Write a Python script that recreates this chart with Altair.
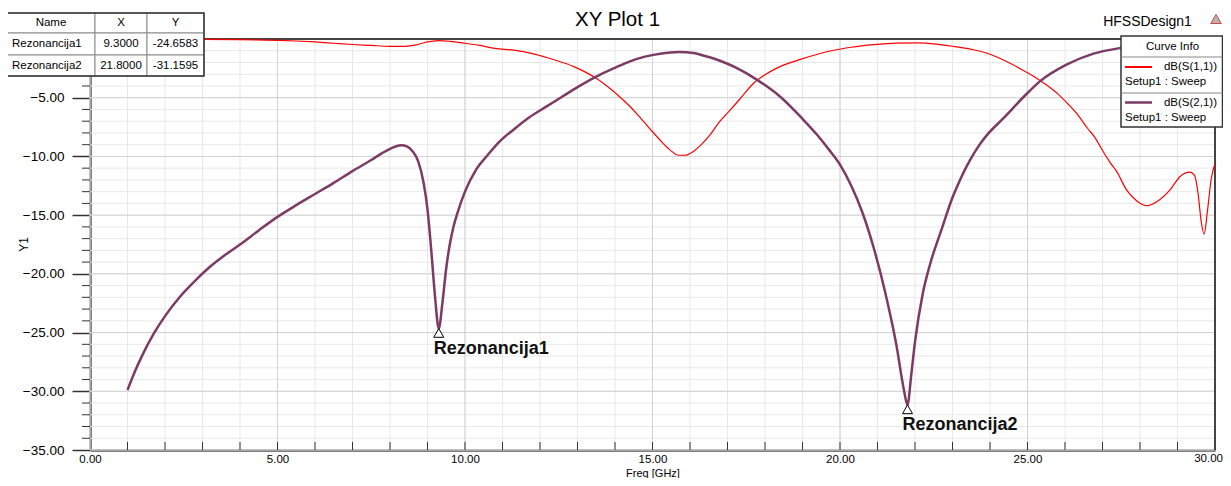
import altair as alt
import pandas as pd

FONT = "Liberation Sans"

# ---------------- data ----------------
s11_freq = [1.0, 2.0, 3.0, 4.0, 5.0, 5.5, 6.0, 6.5, 7.0, 7.5, 8.0, 8.4, 8.7, 8.9, 9.1, 9.3, 9.6,
            10.0, 10.4, 10.8, 11.3, 11.8, 12.2, 12.6, 12.9, 13.2, 13.5, 13.8, 14.1, 14.4, 14.7,
            15.0, 15.2, 15.45, 15.7, 15.85, 16.1, 16.3, 16.5, 16.8, 17.1, 17.4, 17.7, 18.0, 18.3,
            18.6, 18.9, 19.4, 19.8, 20.3, 20.9, 21.5, 22.1, 22.6, 23.0, 23.5, 23.9, 24.3, 24.6,
            24.9, 25.2, 25.5, 25.8, 26.1, 26.3, 26.6, 26.8, 27.0, 27.2, 27.4, 27.64, 27.85, 28.0,
            28.2, 28.45, 28.8, 29.07, 29.33, 29.45, 29.55, 29.63, 29.71, 29.8, 29.9, 30.0]
s11_db = [-0.05, -0.03, -0.03, -0.06, -0.12, -0.17, -0.25, -0.36, -0.47, -0.55, -0.62, -0.62, -0.5,
          -0.32, -0.2, -0.14, -0.2, -0.36, -0.55, -0.8, -0.95, -1.25, -1.6, -2.0, -2.35, -2.8,
          -3.35, -4.05, -4.85, -5.75, -6.8, -7.9, -8.6, -9.4, -9.9, -9.9, -9.55, -9.0, -8.3, -7.0,
          -5.95, -4.85, -3.75, -3.05, -2.5, -2.1, -1.78, -1.3, -0.98, -0.7, -0.48, -0.35, -0.33,
          -0.45, -0.62, -0.88, -1.19, -1.7, -2.17, -2.7, -3.25, -3.9, -4.65, -5.6, -6.3, -7.6,
          -8.4, -9.5, -10.5, -11.4, -12.85, -13.6, -13.98, -14.2, -13.85, -12.85, -11.71, -11.34,
          -11.6, -13.2, -15.5, -16.62, -14.6, -11.9, -10.6]

s21_freq = [1.0, 1.2, 1.4, 1.7, 2.0, 2.4, 2.8, 3.2, 3.6, 4.0, 4.5, 5.0, 5.5, 6.0, 6.5, 7.0, 7.5,
            7.8, 8.0, 8.15, 8.3, 8.45, 8.6, 8.75, 8.9, 9.0, 9.1, 9.2, 9.3, 9.4, 9.5, 9.6, 9.7,
            9.8, 10.0, 10.3, 10.6, 10.9, 11.3, 11.7, 12.2, 12.6, 13.0, 13.5, 14.0, 14.4, 14.8,
            15.2, 15.7, 16.1, 16.4, 16.8, 17.2, 17.8, 18.4, 19.0, 19.4, 19.7, 20.0, 20.3, 20.6,
            20.9, 21.2, 21.5, 21.7, 21.8, 21.9, 22.0, 22.2, 22.4, 22.7, 23.0, 23.2, 23.47, 23.7,
            23.9, 24.36, 25.0, 25.33, 26.04, 26.76, 27.47, 28.2, 29.0, 30.0]
s21_db = [-29.9, -28.3, -26.9, -25.1, -23.6, -21.95, -20.6, -19.4, -18.4, -17.5, -16.3, -15.15,
          -14.15, -13.2, -12.25, -11.25, -10.3, -9.7, -9.35, -9.15, -9.05, -9.15, -9.55, -10.4,
          -12.3, -14.5, -18.0, -21.9, -24.6583, -22.4, -19.5, -17.4, -15.9, -14.8, -13.0, -11.1,
          -9.9, -8.8, -7.7, -6.7, -5.7, -4.9, -4.1, -3.2, -2.45, -1.9, -1.5, -1.25, -1.1, -1.2,
          -1.45, -1.85, -2.4, -3.5, -4.9, -6.8, -8.2, -9.4, -10.7, -12.5, -14.8, -17.8, -21.5,
          -26.0, -29.8, -31.1595, -28.6, -25.8, -21.8, -19.2, -16.3, -13.5, -12.0, -10.3, -9.1,
          -8.25, -6.74, -4.6, -3.61, -2.19, -1.25, -0.77, -0.5, -0.35, -0.3]

marker_names = ["Rezonancija1", "Rezonancija2"]
marker_x = [9.3, 21.8]
marker_y = [-24.6583, -31.1595]
marker_x_txt = ["9.3000", "21.8000"]
marker_y_txt = ["-24.6583", "-31.1595"]

x_ticks = [0, 5, 10, 15, 20, 25, 30]
x_last_label = "30.00"
y_ticks = [-35, -30, -25, -20, -15, -10, -5]
y_grid_major = [-35, -30, -25, -20, -15, -10, -5, 0]
x_minor = list(range(0, 31))
y_minor = list(range(-35, 1))

legend_names = ["dB(S(1,1))", "dB(S(2,1))"]
legend_sub = "Setup1 : Sweep"
colors = ["#ff0000", "#7b3b64"]

# ---------------- layout ----------------
W, H = 1125, 411
XLAB_PAD = 3
xs = alt.Scale(domain=[0, 30], nice=False, zero=False)
ys = alt.Scale(domain=[-35, 0], nice=False, zero=False)

x_axis = alt.Axis(
    values=x_ticks[:-1], format=".2f", title="Freq [GHz]", grid=False, ticks=False,
    domainColor="black", domainWidth=2, labelPadding=XLAB_PAD, labelFontSize=11.5,
    labelFlush=False, labelOverlap=False, titleY=28, titleBaseline="bottom",
    titleFontSize=11, titleFontWeight="normal", labelFont=FONT, titleFont=FONT,
    labelColor="black", titleColor="black")
y_axis = alt.Axis(
    values=y_ticks, format=".2f", title="Y1", grid=False, tickSize=18, tickColor="#333",
    tickWidth=1.5, domainColor="black", domainWidth=2, labelPadding=8, labelFontSize=13.5,
    labelFlush=False, labelOverlap=False, titleX=-60, titleY=205, titleFontSize=12,
    titleFontWeight="normal", labelFont=FONT, titleFont=FONT, labelColor="black",
    titleColor="black")

X = lambda: alt.X("freq:Q", scale=xs)
Y = lambda: alt.Y("db:Q", scale=ys)


def rule(x, x2, y, y2, color, width):
    return alt.Chart(pd.DataFrame({"k": [0]})).mark_rule(color=color, strokeWidth=width).encode(
        x=alt.value(x), x2=alt.value(x2), y=alt.value(y), y2=alt.value(y2))


def box(x, x2, y, y2, stroke, width, fill="white"):
    return alt.Chart(pd.DataFrame({"k": [0]})).mark_rect(
        fill=fill, stroke=stroke, strokeWidth=width).encode(
        x=alt.value(x), x2=alt.value(x2), y=alt.value(y), y2=alt.value(y2))


def label(s, x, y, size, align="center", weight="normal", color="black", baseline="middle"):
    return alt.Chart(pd.DataFrame({"t": [s]})).mark_text(
        font=FONT, fontSize=size, align=align, baseline=baseline, fontWeight=weight,
        color=color).encode(x=alt.value(x), y=alt.value(y), text="t:N")


# grid (first layers carry the axes)
gx_minor = alt.Chart(pd.DataFrame({"freq": x_minor})).mark_rule(color="#e8e8e8", strokeWidth=1).encode(
    x=alt.X("freq:Q", scale=xs, axis=x_axis))
gy_minor = alt.Chart(pd.DataFrame({"db": y_minor})).mark_rule(color="#e8e8e8", strokeWidth=1).encode(
    y=alt.Y("db:Q", scale=ys, axis=y_axis))
gx_major = alt.Chart(pd.DataFrame({"freq": x_ticks})).mark_rule(color="#d2d2d2", strokeWidth=1).encode(x=X())
gy_major = alt.Chart(pd.DataFrame({"db": y_grid_major})).mark_rule(color="#d2d2d2", strokeWidth=1).encode(y=Y())

# minor ticks
x_tick_marks = alt.Chart(pd.DataFrame({"freq": x_minor[1:-1]})).mark_rule(color="#333", strokeWidth=1).encode(
    x=X(), y=alt.value(H), y2=alt.value(H - 8))
y_tick_marks = alt.Chart(pd.DataFrame({"db": [v for v in y_minor if v % 5 != 0]})).mark_rule(
    color="#333", strokeWidth=1).encode(y=Y(), x=alt.value(-8), x2=alt.value(0))

# curves
df11 = pd.DataFrame({"freq": s11_freq, "db": s11_db})
df21 = pd.DataFrame({"freq": s21_freq, "db": s21_db})

line11 = alt.Chart(df11).mark_line(color=colors[0], strokeWidth=1.2, interpolate="monotone").encode(
    x=X(), y=Y(), order="freq:Q")
line21 = alt.Chart(df21).mark_line(color=colors[1], strokeWidth=2.5, interpolate="monotone").encode(
    x=X(), y=Y(), order="freq:Q")

# markers
dfm = pd.DataFrame({"freq": marker_x, "db": marker_y, "name": marker_names})
markers = alt.Chart(dfm).mark_point(
    shape="M0,0L-1,1.75L1,1.75Z", size=100, filled=True, fill="white", stroke="black",
    strokeWidth=1, opacity=1, fillOpacity=1).encode(x=X(), y=Y())
marker_labels = alt.Chart(dfm).mark_text(
    font=FONT, fontSize=18, fontWeight="bold", align="left", baseline="middle", dx=-5, dy=20,
    color="#111").encode(x=X(), y=Y(), text="name:N")

# frame (top and right)
frame = [rule(0, W, 0, 0, "#444", 2), rule(W, W, 0, H, "#444", 2)]

# last x label, kept inside the page
last_lbl = label(x_last_label, W + 8, H + XLAB_PAD, 11.5, align="right", baseline="top")

# marker table (top-left)
cols = [-83, 5, 57, 114]
rows = [-26, -6, 16, 37]
table = []
for r in range(3):
    for c in range(3):
        table.append(box(cols[c], cols[c + 1], rows[r], rows[r + 1], "#8a8a8a", 1))
table.append(box(cols[0], cols[3], rows[0], rows[3], "#333", 1.5, fill="transparent"))
hdr_y = (rows[0] + rows[1]) / 2
table += [label("Name", (cols[0] + cols[1]) / 2, hdr_y, 11.5),
          label("X", (cols[1] + cols[2]) / 2, hdr_y, 11.5),
          label("Y", (cols[2] + cols[3]) / 2, hdr_y, 11.5)]
for i in range(2):
    yy = (rows[i + 1] + rows[i + 2]) / 2
    table += [label(marker_names[i], cols[0] + 5, yy, 11.5, align="left"),
              label(marker_x_txt[i], (cols[1] + cols[2]) / 2, yy, 11.5),
              label(marker_y_txt[i], (cols[2] + cols[3]) / 2, yy, 11.5)]

# curve info legend (top-right)
lx0, lx1 = 1031, 1132.5
legend = [box(lx0, lx1, -3, 88, "#333", 1.5),
          rule(lx0, lx1, 18, 18, "#888", 1),
          rule(lx0, lx1, 54, 54, "#888", 1),
          label("Curve Info", 1082.5, 8, 11.5)]
for i, yy in enumerate([28, 63.5]):
    legend += [rule(1035, 1062, yy, yy, colors[i], 2 if i == 0 else 2.5),
               label(legend_names[i], 1127, yy, 11.5, align="right"),
               label(legend_sub, 1035, yy + 15, 11.5, align="left")]

# titles
titles = [label("XY Plot 1", 527.5, -19, 20.5),
          label("HFSSDesign1", 1057.5, -17.5, 14),
          alt.Chart(pd.DataFrame({"k": [0]})).mark_point(
              shape="triangle-up", size=110, filled=True, fill="#b5b5b5", stroke="#d04040",
              strokeWidth=1, opacity=1).encode(x=alt.value(1126), y=alt.value(-20))]

chart = alt.layer(
    gx_minor, gy_minor, gx_major, gy_major, *frame, x_tick_marks, y_tick_marks,
    line11, line21, markers, marker_labels, last_lbl, *table, *legend, *titles
).properties(
    width=W, height=H,
    padding={"left": 82, "top": 31, "right": 8, "bottom": 28},
    autosize=alt.AutoSizeParams(type="none"),
    background="white",
).configure_view(strokeWidth=0)

chart.save("out.html", embed_options={"renderer": "svg", "actions": False})
